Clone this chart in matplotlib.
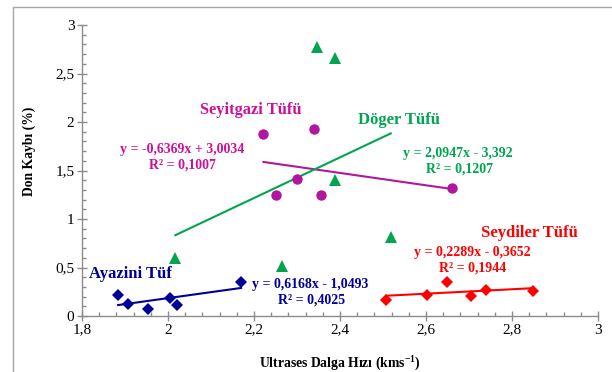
import matplotlib
matplotlib.use("Agg")
import matplotlib.pyplot as plt
import numpy as np
from matplotlib.ticker import MultipleLocator, FuncFormatter
from matplotlib.patches import Rectangle

# Data
ayazini_x = [1.884, 1.908, 1.954, 2.004, 2.022, 2.170]
ayazini_y = [0.220, 0.125, 0.068, 0.190, 0.115, 0.346]
seydiler_x = [2.507, 2.603, 2.649, 2.705, 2.739, 2.848]
seydiler_y = [0.166, 0.220, 0.346, 0.210, 0.268, 0.254]
seyitgazi_x = [2.222, 2.340, 2.300, 2.251, 2.355, 2.661]
seyitgazi_y = [1.881, 1.932, 1.414, 1.244, 1.244, 1.322]
doger_x = [2.346, 2.389, 2.389, 2.017, 2.265, 2.518]
doger_y = [2.769, 2.658, 1.397, 0.597, 0.512, 0.817]

# trend coefficients (slope, intercept)
ayazini_fit = (0.6168, -1.0493)
seydiler_fit = (0.2289, -0.3652)
seyitgazi_fit = (-0.6369, 3.0034)
doger_fit = (2.0947, -3.392)

NAVY = "#000099"
RED = "#FF0000"
MAG_M = "#B0179E"
MAG_T = "#CC1199"
GREEN = "#00A550"

plt.rcParams['font.family'] = ['Liberation Serif', 'DejaVu Serif']

fig = plt.figure(figsize=(6.12, 3.72), dpi=100)
ax = fig.add_axes([82/612, 56/372, 516/612, 291/372])

def series(xs, ys, fit, color, marker, ms):
    xs = np.array(xs); ys = np.array(ys)
    xl = np.array([xs.min(), xs.max()])
    ax.plot(xl, fit[0]*xl + fit[1], color=color, lw=1.5, zorder=2)
    ax.plot(xs, ys, linestyle='none', marker=marker, color=color, ms=ms,
            markeredgewidth=0, zorder=3)

series(ayazini_x, ayazini_y, ayazini_fit, NAVY, 'D', 6.5)
series(seydiler_x, seydiler_y, seydiler_fit, RED, 'D', 6.5)
series(seyitgazi_x, seyitgazi_y, seyitgazi_fit, MAG_M, 'o', 7.5)
series(doger_x, doger_y, doger_fit, GREEN, '^', 8)

ax.set_xlim(1.8, 3.0)
ax.set_ylim(0, 3.0)
ax.xaxis.set_major_locator(MultipleLocator(0.2))
ax.xaxis.set_minor_locator(MultipleLocator(0.04))
ax.yaxis.set_major_locator(MultipleLocator(0.5))
ax.yaxis.set_minor_locator(MultipleLocator(0.1))
fmt = FuncFormatter(lambda v, p: ('%g' % round(v, 2)).replace('.', ','))
ax.xaxis.set_major_formatter(fmt)
ax.yaxis.set_major_formatter(fmt)

for s in ['top', 'right']:
    ax.spines[s].set_visible(False)
for s in ['left', 'bottom']:
    ax.spines[s].set_color('#8c8c8c')
    ax.spines[s].set_linewidth(1.0)
ax.tick_params(which='major', direction='inout', length=7, width=1, color='#8c8c8c',
               labelsize=11, pad=2)
ax.tick_params(which='minor', direction='in', length=3, width=1, color='#8c8c8c')

ax.set_xlabel('Ultrases Dalga Hızı (kms$^{\\mathregular{-1}}$)', fontsize=9.8, fontweight='bold')
ax.set_ylabel('Don Kaybı (%)', fontsize=9.8, fontweight='bold')
ax.xaxis.set_label_coords(0.5, -0.127)
ax.yaxis.set_label_coords(-0.089, 0.567)

def txt(x, y, s, c, fs):
    ax.text(x, y, s, color=c, fontsize=fs, fontweight='bold', ha='center', va='center')

txt(1.912, 0.437, 'Ayazini Tüf', NAVY, 12)
txt(2.331, 0.325, 'y = 0,6168x - 1,0493', NAVY, 10)
txt(2.333, 0.169, 'R² = 0,4025', NAVY, 10)

txt(2.840, 0.854, 'Seydiler Tüfü', RED, 12)
txt(2.708, 0.654, 'y = 0,2289x - 0,3652', RED, 10)
txt(2.708, 0.498, 'R² = 0,1944', RED, 10)

txt(2.193, 2.119, 'Seyitgazi Tüfü', MAG_T, 11.8)
txt(2.032, 1.712, 'y = -0,6369x + 3,0034', MAG_T, 10)
txt(2.033, 1.553, 'R² = 0,1007', MAG_T, 10)

txt(2.537, 2.024, 'Döger Tüfü', GREEN, 12)
txt(2.675, 1.671, 'y = 2,0947x - 3,392', GREEN, 10)
txt(2.677, 1.515, 'R² = 0,1207', GREEN, 10)

# outer frame (cut off at right and bottom)
fig.add_artist(Rectangle((13/612, -0.2), 1.2, 1.2 - 7/372, transform=fig.transFigure,
                         fill=False, edgecolor='#a6a6a6', lw=1.0, clip_on=False))

fig.savefig('out.png', dpi=100)
